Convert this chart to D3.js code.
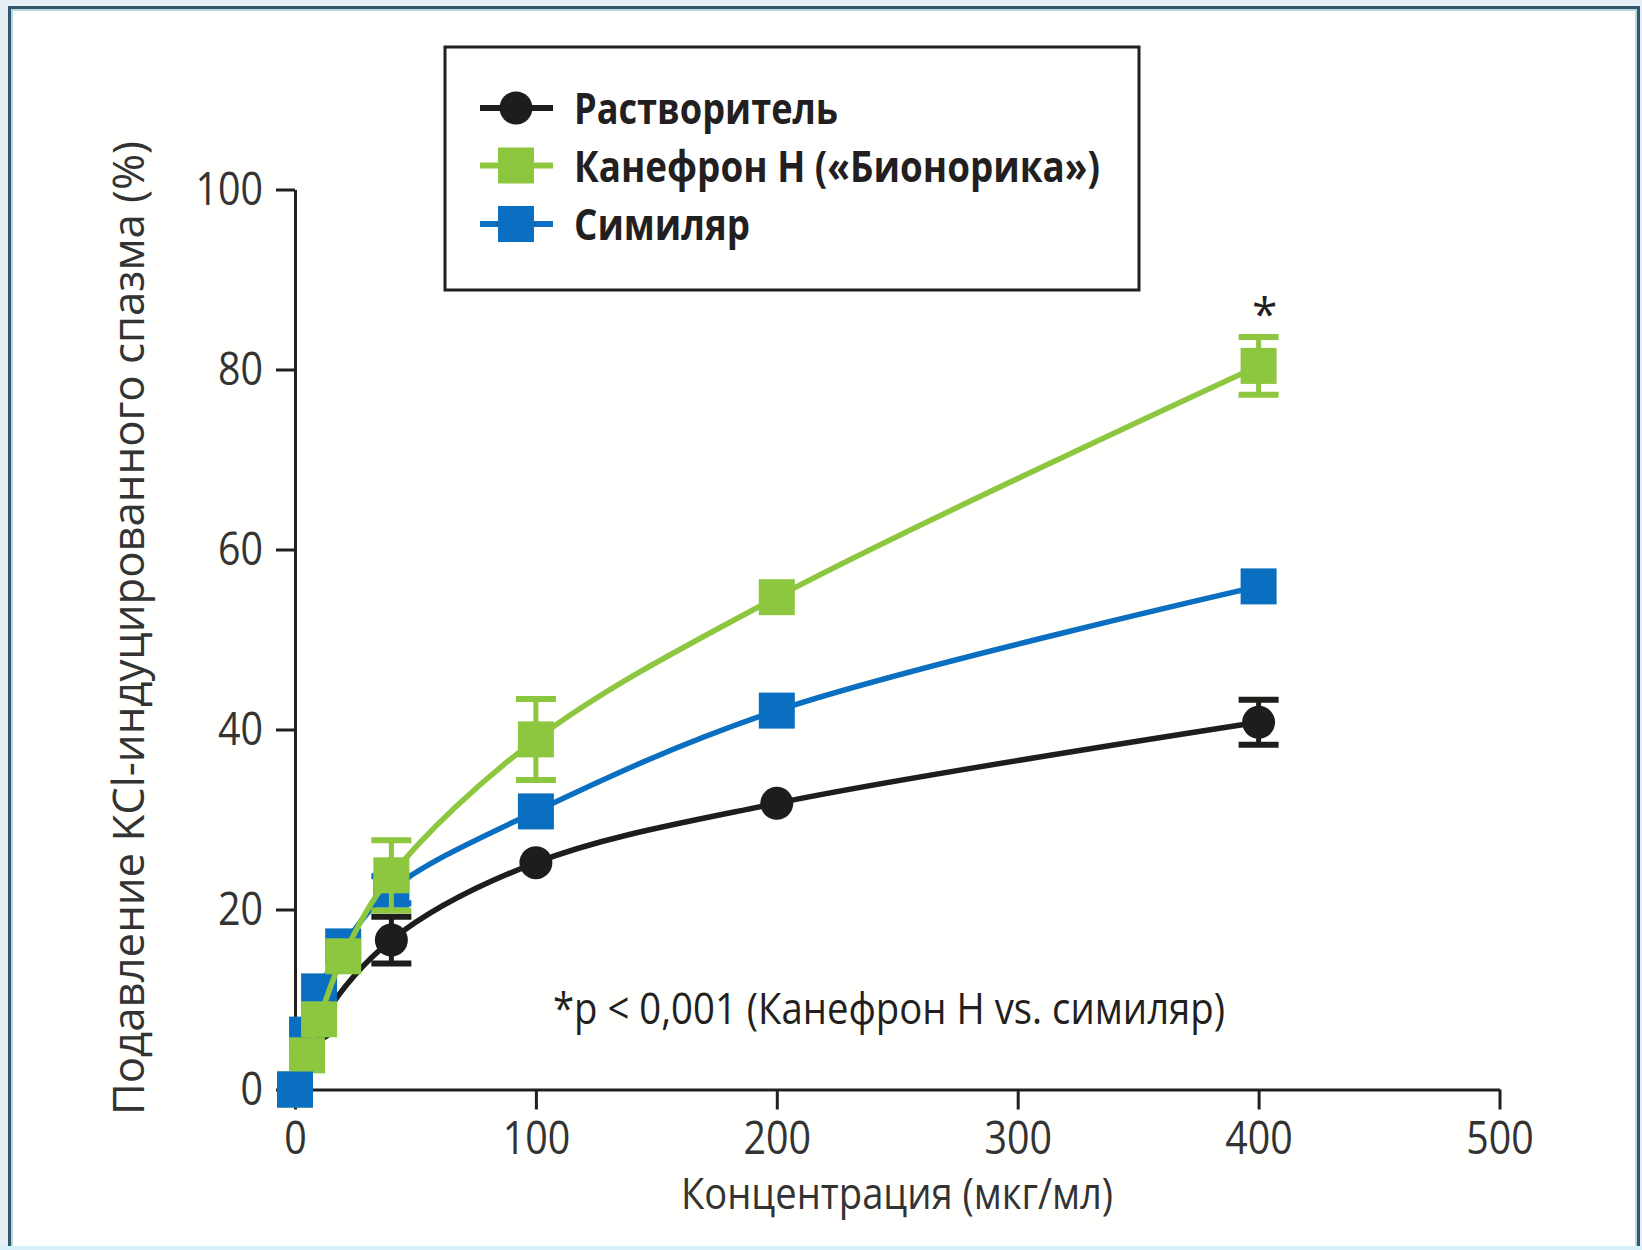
<!DOCTYPE html>
<html><head><meta charset="utf-8">
<script src="https://cdn.jsdelivr.net/npm/d3@7/dist/d3.min.js"></script>
<style>html,body{margin:0;padding:0;background:#e6eef6;} svg{display:block}</style>
</head><body><svg id="c" width="1642" height="1250"></svg>
<script>
// ---- data ----
const concentrations = [0, 5, 10, 20, 40, 100, 200, 400];
const solventConcentrations = [0, 10, 40, 100, 200, 400];
const seriesNames = ["Растворитель", "Канефрон Н («Бионорика»)", "Симиляр"];
const solventValues = [0, 7.2, 16.6, 25.2, 31.8, 40.8];
const solventErrors = [0, 0, 2.6, 0, 0, 2.5];
const canephronValues = [0, 3.8, 7.8, 14.8, 23.8, 38.9, 54.7, 80.4];
const canephronErrors = [0, 0, 0, 0, 3.9, 4.5, 0, 3.2];
const similarValues = [0, 6.1, 10.9, 15.9, 22.2, 30.9, 42.1, 55.9];
const similarErrors = [0, 0, 0, 0, 1.5, 0, 0, 0];
const xTicks = [0, 100, 200, 300, 400, 500];
const yTicks = [0, 20, 40, 60, 80, 100];
const xTitle = "Концентрация (мкг/мл)";
const yTitle = "Подавление KCl-индуцированного спазма (%)";
const footnote = "*p < 0,001 (Канефрон Н vs. симиляр)";
const significanceMark = "*";

// ---- setup ----
const svg = d3.select("#c");
const FONT = "'Liberation Sans Narrow','Open Sans',sans-serif";
const colors = ["#1d1d1b", "#8dc63f", "#0b6fc1"];
const shapes = ["circle", "square", "square"];

// frame
svg.append("rect").attr("x",0).attr("y",0).attr("width",1642).attr("height",1250).attr("fill","#e6eef6");
svg.append("rect").attr("x",9.5).attr("y",7.5).attr("width",1629).attr("height",1270)
  .attr("fill","#fffffd").attr("stroke","#35566a").attr("stroke-width",3);
svg.append("rect").attr("x",12).attr("y",10).attr("width",1624).attr("height",1270)
  .attr("fill","none").attr("stroke","#9ccfdb").attr("stroke-width",1.5);
svg.append("rect").attr("x",0).attr("y",1246).attr("width",1642).attr("height",4).attr("fill","#d6f1f8");

const x = d3.scaleLinear().domain([0, 500]).range([295, 1499.5]);
const y = d3.scaleLinear().domain([0, 100]).range([1089.5, 189.5]);

// axes
const gy = svg.append("g").attr("transform", `translate(${x(0)},0)`)
  .call(d3.axisLeft(y).tickValues(yTicks).tickSize(19).tickSizeOuter(0).tickPadding(13));
const gx = svg.append("g").attr("transform", `translate(0,${y(0)})`)
  .call(d3.axisBottom(x).tickValues(xTicks).tickSize(20).tickSizeOuter(0).tickPadding(12));
[gx, gy].forEach(g => {
  g.select(".domain").attr("stroke", "#231f20").attr("stroke-width", 3);
  g.selectAll(".tick line").attr("stroke", "#231f20").attr("stroke-width", 3);
  g.selectAll(".tick text").attr("font-family", FONT).attr("font-size", 46).attr("fill", "#333")
    .attr("textLength", function(){ return this.textContent.length * 22.5; })
    .attr("lengthAdjust", "spacingAndGlyphs");
});

// titles
svg.append("text").attr("x", 897).attr("y", 1209).attr("text-anchor", "middle")
  .attr("font-family", FONT).attr("font-size", 43).attr("fill", "#333")
  .attr("textLength", 432).attr("lengthAdjust", "spacingAndGlyphs").text(xTitle);
svg.append("text").attr("transform", "translate(144,628) rotate(-90)").attr("text-anchor", "middle")
  .attr("font-family", FONT).attr("font-size", 43).attr("fill", "#333")
  .attr("textLength", 974).attr("lengthAdjust", "spacingAndGlyphs").text(yTitle);

// series
const series = [
  {idx: 0, conc: solventConcentrations, values: solventValues, errors: solventErrors},
  {idx: 2, conc: concentrations, values: similarValues, errors: similarErrors},
  {idx: 1, conc: concentrations, values: canephronValues, errors: canephronErrors}
];
const line = d3.line().x(d => x(d.c)).y(d => y(d.v)).curve(d3.curveCatmullRom.alpha(0.5));

function drawMarker(g, shape, cx, cy, color, size) {
  if (shape === "circle") {
    g.append("circle").attr("cx", cx).attr("cy", cy).attr("r", size/2).attr("fill", color);
  } else {
    g.append("rect").attr("x", cx - size/2).attr("y", cy - size/2).attr("width", size).attr("height", size).attr("fill", color);
  }
}

series.forEach(s => {
  const color = colors[s.idx];
  const pts = s.conc.map((c, i) => ({c, v: s.values[i], e: s.errors[i]}));
  s.pts = pts;
  const g = svg.append("g");
  g.append("path").datum(pts).attr("d", line).attr("fill", "none")
    .attr("stroke", color).attr("stroke-width", 5.5);
  pts.filter(p => p.e > 0).forEach(p => {
    const cx = x(p.c);
    g.append("line").attr("x1", cx).attr("x2", cx).attr("y1", y(p.v + p.e)).attr("y2", y(p.v - p.e))
      .attr("stroke", color).attr("stroke-width", 5);
    [p.v + p.e, p.v - p.e].forEach(v => {
      g.append("line").attr("x1", cx - 20).attr("x2", cx + 20).attr("y1", y(v)).attr("y2", y(v))
        .attr("stroke", color).attr("stroke-width", 6);
    });
  });
  pts.forEach(p => drawMarker(g, shapes[s.idx], x(p.c), y(p.v), color, shapes[s.idx] === "circle" ? 33 : 36));
});
// the similar marker at the origin sits on top in the original
const top0 = series[1].pts[0];
drawMarker(svg.append("g"), "square", x(top0.c), y(top0.v), colors[2], 36);

// significance
svg.append("text").attr("x", x(400) + 6).attr("y", 331).attr("text-anchor", "middle")
  .attr("font-family", FONT).attr("font-size", 46).attr("fill", "#231f20").text(significanceMark);

// footnote
svg.append("text").attr("x", 553).attr("y", 1024)
  .attr("font-family", FONT).attr("font-size", 43).attr("fill", "#231f20")
  .attr("textLength", 672).attr("lengthAdjust", "spacingAndGlyphs").text(footnote);

// legend
const lg = svg.append("g");
lg.append("rect").attr("x", 445).attr("y", 47).attr("width", 694).attr("height", 243)
  .attr("fill", "#fff").attr("stroke", "#231f20").attr("stroke-width", 3);
const legendRows = [108, 165.5, 224];
const legendWidths = [264, 526, 176];
seriesNames.forEach((name, i) => {
  const cy = legendRows[i];
  lg.append("line").attr("x1", 480).attr("x2", 553).attr("y1", cy).attr("y2", cy)
    .attr("stroke", colors[i]).attr("stroke-width", 6);
  drawMarker(lg, shapes[i], 516, cy, colors[i], shapes[i] === "circle" ? 33 : 36);
  lg.append("text").attr("x", 574).attr("y", cy + 16)
    .attr("font-family", FONT).attr("font-weight", "bold").attr("font-size", 43).attr("fill", "#231f20")
    .attr("textLength", legendWidths[i]).attr("lengthAdjust", "spacingAndGlyphs").text(name);
});
</script></body></html>
